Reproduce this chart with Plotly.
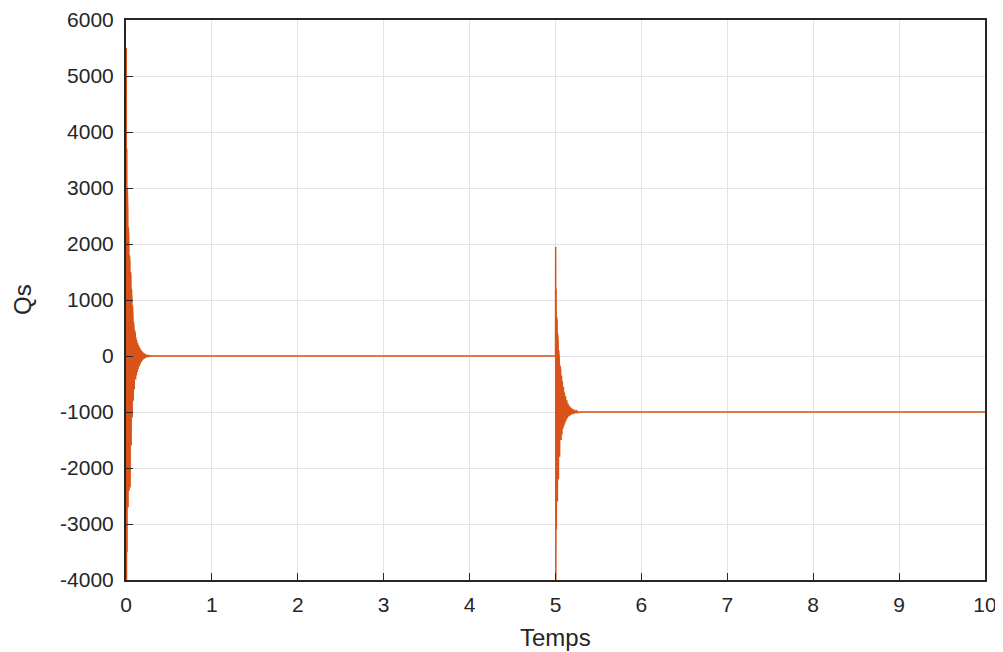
import plotly.graph_objects as go

# Transient after start (time in s, Qs)
t1 = [0.000, 0.003, 0.006, 0.009, 0.012, 0.015, 0.018, 0.021, 0.024, 0.027, 0.030,
      0.033, 0.036, 0.039, 0.042, 0.045, 0.048, 0.051, 0.054, 0.057, 0.060, 0.063,
      0.066, 0.069, 0.072, 0.075, 0.078, 0.081, 0.084, 0.087, 0.090, 0.093, 0.096,
      0.100, 0.104, 0.108, 0.112, 0.116, 0.120, 0.125, 0.130, 0.135, 0.140, 0.146,
      0.152, 0.158, 0.164, 0.170, 0.177, 0.184, 0.191, 0.198, 0.206, 0.214, 0.222,
      0.230, 0.240, 0.250, 0.260, 0.270, 0.285, 0.300]
q1 = [0, 5500, -4000, 3700, -3500, 3000, -3000, 2600, -2700, 2300, -2500,
      2000, -2400, 1800, -2300, 1700, -2350, 1500, -2000, 1450, -1600, 1200,
      -1300, 1000, -1100, 900, -1000, 700, -800, 600, -700, 500, -600,
      450, -500, 400, -420, 330, -350, 280, -290, 230, -240, 190,
      -190, 150, -150, 120, -110, 90, -80, 65, -55, 45, -38,
      30, -22, 15, -10, 6, -3, 0]

# Transient after step at t = 5 s
t2 = [5.000, 5.002, 5.004, 5.007, 5.010, 5.013, 5.016, 5.019, 5.022, 5.025, 5.028,
      5.031, 5.034, 5.037, 5.040, 5.044, 5.048, 5.052, 5.056, 5.060, 5.065, 5.070,
      5.075, 5.080, 5.086, 5.092, 5.098, 5.104, 5.110, 5.117, 5.124, 5.131, 5.138,
      5.146, 5.154, 5.162, 5.170, 5.180, 5.190, 5.200, 5.212, 5.224, 5.236, 5.248,
      5.262, 5.280, 10.000]
q2 = [0, 1950, -4000, 1200, -3100, 700, -2900, 620, -2600, 400, -2400,
      250, -2200, 100, -1900, -50, -1800, -170, -1600, -250, -1500, -350,
      -1400, -450, -1300, -550, -1250, -650, -1200, -720, -1150, -790, -1110,
      -850, -1080, -890, -1060, -920, -1045, -945, -1035, -965, -1020, -980,
      -1010, -1000, -1000]

t = t1 + t2
q = q1 + q2

xticks = list(range(0, 11))
yticks = list(range(-4000, 6001, 1000))

FONT = "Liberation Sans, Arial, sans-serif"
INK = "#262626"

# page body has an 8 px default margin; figure is sized to fit the window
OFF = 8
W, H = 1003 - OFF, 652 - OFF
L, T = 126 - OFF, 20 - OFF
R = W - (985 - OFF)
B = H - (580 - OFF)
pw, ph = W - L - R, H - T - B

fig = go.Figure()
fig.add_trace(go.Scatter(x=t, y=q, mode="lines",
                         line=dict(color="#D95319", width=1.5), showlegend=False))

axis_common = dict(
    showgrid=True, gridcolor="#e3e3e3", gridwidth=1,
    showline=True, linecolor=INK, linewidth=2, mirror=True,
    ticks="inside", ticklen=7, tickcolor=INK, tickwidth=1,
    zeroline=False, automargin=False,
    tickfont=dict(family=FONT, size=21, color=INK),
)

fig.update_xaxes(range=[0, 10], tickvals=xticks, ticktext=[str(v) for v in xticks],
                 ticklabelstandoff=5, **axis_common)
fig.update_yaxes(range=[-4000, 6000], tickvals=yticks, ticktext=[str(v) for v in yticks],
                 ticklabelstandoff=6, **axis_common)


def paper(px, py):
    fx, fy = px - OFF, py - OFF
    return (fx - L) / pw, 1 - (fy - T) / ph


tx, ty = paper(555, 637)
fig.add_annotation(text="Temps", x=tx, y=ty, xref="paper", yref="paper",
                   xanchor="center", yanchor="middle",
                   showarrow=False, font=dict(family=FONT, size=24, color=INK))
qx, qy = paper(22, 300)
fig.add_annotation(text="Qs", x=qx, y=qy, xref="paper", yref="paper",
                   xanchor="center", yanchor="middle",
                   showarrow=False, textangle=-90, font=dict(family=FONT, size=24, color=INK))

fig.update_layout(
    width=W, height=H,
    margin=dict(l=L, r=R, t=T, b=B),
    plot_bgcolor="white", paper_bgcolor="white",
)

fig.write_html("out.html")
